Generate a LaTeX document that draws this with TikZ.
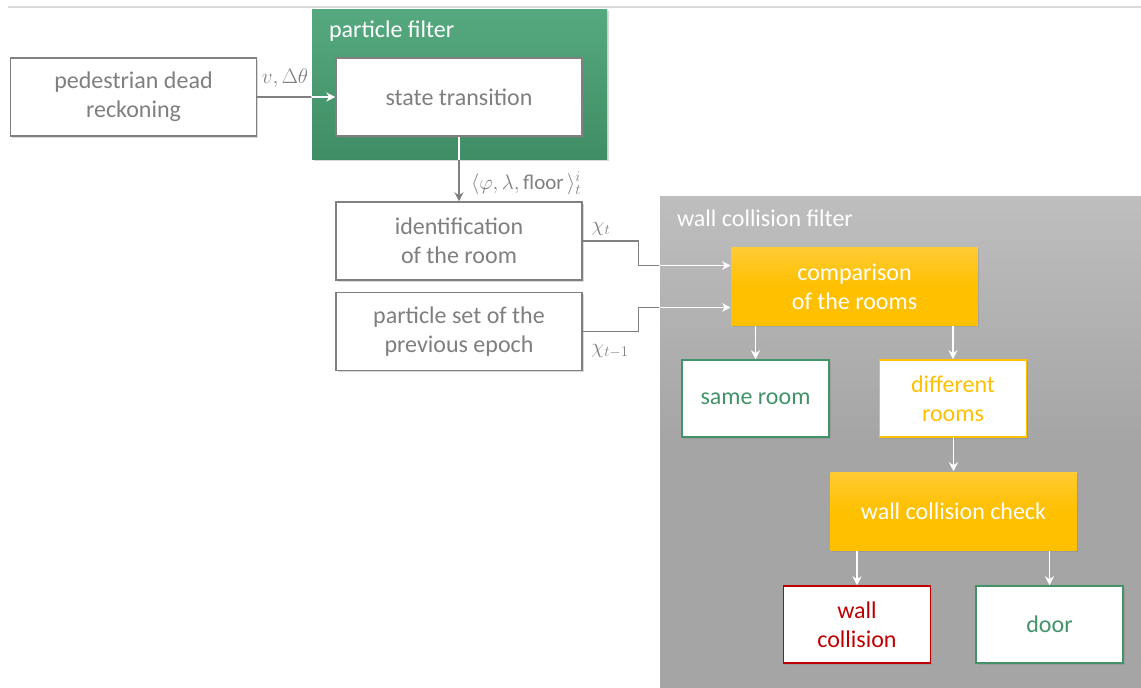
\RequirePackage{fix-cm}
\documentclass[tikz,border=0pt]{standalone}
\usepackage{amsmath}
\usepackage{fontspec}
\setmainfont{Carlito}
\usepackage{tikz}
\usetikzlibrary{arrows.meta, shadows, positioning}

\definecolor{txtgray}{HTML}{7F7F7F}
\definecolor{linegray}{HTML}{808080}
\definecolor{rulegray}{HTML}{DADADA}
\definecolor{pfgreen}{HTML}{3F8D64}
\definecolor{pfgreenlt}{HTML}{56A97F}
\definecolor{okgreen}{HTML}{429468}
\definecolor{amber}{HTML}{FFC000}
\definecolor{amberlt}{HTML}{FFCB33}
\definecolor{alarmred}{HTML}{C00000}
\definecolor{wcftop}{HTML}{BEBEBE}
\definecolor{wcfbot}{HTML}{A5A5A5}

\tikzset{>={Stealth[length=9pt,width=9pt]},
  box/.style={draw=linegray, fill=white, text=txtgray, align=center,
    minimum width=246pt, minimum height=78pt, inner sep=0pt,
    drop shadow={shadow xshift=1.5pt, shadow yshift=-1.5pt, opacity=.3}},
  smallbox/.style={box, minimum width=147pt, minimum height=77pt},
  stepbox/.style={box, draw=none, text=white, top color=amberlt, bottom color=amber, middle color=amber},
  group/.style={draw=none, inner sep=0pt},
  grouplabel/.style={anchor=base west, text=white},
  flowlabel/.style={text=txtgray, font=\fontsize{21}{25}\selectfont},
  flow/.style={->, draw=linegray},
  inner/.style={->, draw=white},
}

\begin{document}
\begin{tikzpicture}[x=1pt, y=-1pt, line width=1.5pt,
    every node/.style={font=\fontsize{24}{29}\selectfont}]
  \useasboundingbox (0,0) rectangle (1141,688);
  \draw [rulegray] (8,7) -- (1141,7);

  % containers
  \node [group, top color=pfgreenlt, bottom color=pfgreen, minimum width=295pt, minimum height=150pt,
         drop shadow={shadow xshift=1.5pt, shadow yshift=-1.5pt, opacity=.3}] (pf) at (459.5,84) {};
  \node [grouplabel] (pflabel) at (325,37) {particle filter};
  \node [group, top color=wcftop, bottom color=wcfbot, middle color=wcfbot,
         minimum width=481pt, minimum height=492pt] (wcf) at (900.5,442) {};
  \node [grouplabel] (wcflabel) at (673,226) {wall collision filter};

  % blocks
  \node [box] (pdr) at (133.5,97) {pedestrian dead\\reckoning};
  \node [box] (st) at (459,97) {state transition};
  \node [box] (id) at (459,241) {identification\\of the room};
  \node [box] (ps) at (459,331.5) {particle set of the\\previous epoch};
  \node [stepbox] (cmp) at (854.5,286.5) {comparison\\of the rooms};
  \node [smallbox, draw=okgreen, text=okgreen] (same) at (755.5,398.5) {same room};
  \node [smallbox, draw=amber, text=amber] (diff) at (953,398.5) {different\\rooms};
  \node [stepbox] (wcc) at (953.5,511) {wall collision check};
  \node [smallbox, draw=alarmred, text=alarmred] (wall) at (857,624.5) {wall\\collision};
  \node [smallbox, draw=okgreen, text=okgreen] (door) at (1049.5,624.5) {door};

  \coordinate (jt) at (638.5,0);

  % connectors
  \draw [flow] (pdr) -- (st);
  \draw [flow] (st.south) -- (st.south |- id.north);
  \draw [flow] (id.east) -- (id.east -| jt) |- ([yshift=21pt]cmp.west);
  \draw [flow] (ps.east) -- (ps.east -| jt) |- ([yshift=-21pt]cmp.west);
  \begin{scope}
    \clip (pf.south west) rectangle (pf.north east);
    \draw [inner] (pdr) -- (st);
    \draw [->, draw=white] (st.south) -- (st.south |- id.north);
  \end{scope}
  \begin{scope}
    \clip (wcf.south west) rectangle (wcf.north east);
    \draw [inner] (id.east) -- (id.east -| jt) |- ([yshift=21pt]cmp.west);
    \draw [inner] (ps.east) -- (ps.east -| jt) |- ([yshift=-21pt]cmp.west);
  \end{scope}
  \draw [inner] (same.north |- cmp.south) -- (same.north);
  \draw [inner] (diff.north |- cmp.south) -- (diff.north);
  \draw [inner] (diff.south) -- (diff.south -| wcc.north) -- (wcc.north);
  \draw [inner] (wall.north |- wcc.south) -- (wall.north);
  \draw [inner] (door.north |- wcc.south) -- (door.north);

  % labels
  \node [flowlabel] (vlabel) at (285,78) {$v, \Delta\theta$};
  \node [flowlabel, anchor=west] (statelabel) at (467,183) {$\langle\varphi, \lambda, \mbox{floor}\,\rangle_t^i$};
  \node [flowlabel] (chit) at (601,229) {$\chi_t$};
  \node [flowlabel] (chiprev) at (610,351) {$\chi_{t-1}$};
\end{tikzpicture}
\end{document}
